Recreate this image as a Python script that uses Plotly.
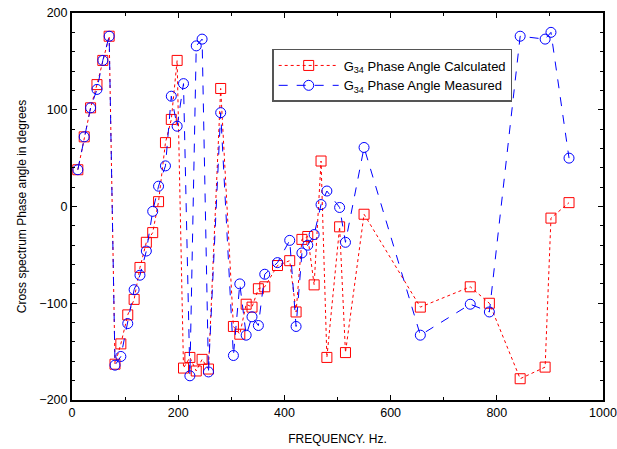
import plotly.graph_objects as go

freq = [11, 23, 35, 47, 58, 70, 81, 92, 105, 117, 128, 140, 152, 163, 176, 187, 198, 210,
        222, 234, 245, 257, 280, 304, 316, 328, 339, 351, 363, 387, 410, 422, 433, 444,
        456, 469, 480, 504, 515, 550, 656, 750, 786, 844, 891, 902, 936]

calculated = [38, 72, 102, 126, 151, 176, -163, -142, -112, -96, -63, -37, -27, 5, 66, 90,
              151, -167, -156, -170, -158, -168, 122, -124, -132, -101, -104, -85, -83, -61,
              -56, -109, -34, -31, -81, 47, -156, -21, -151, -8, -104, -83, -100, -178, -166,
              -12, 4]

measured = [38, 72, 102, 121, 151, 176, -164, -155, -121, -86, -71, -46, -5, 21, 42, 114,
            83, 127, -175, 166, 173, -171, 97, -154, -80, -133, -114, -123, -70, -58, -35,
            -124, -48, -40, -29, 2, 16, -1, -37, 61, -133, -101, -109, 176, 173, 180, 50]

fig = go.Figure()
fig.add_trace(go.Scatter(
    x=freq, y=calculated, mode="lines+markers",
    name="G<sub>34</sub> Phase Angle Calculated",
    line=dict(color="#ff0000", width=1, dash="dot"),
    marker=dict(symbol="square-open", size=10, color="#ff0000", line=dict(width=1)),
))
fig.add_trace(go.Scatter(
    x=freq, y=measured, mode="lines+markers",
    name="G<sub>34</sub> Phase Angle Measured",
    line=dict(color="#0000ff", width=1, dash="dash"),
    marker=dict(symbol="circle-open", size=10, color="#0000ff", line=dict(width=1)),
))

fam = "Liberation Sans, Arial, sans-serif"
fig.update_layout(
    width=617, height=449,
    margin=dict(l=72, r=14, t=13, b=49),
    paper_bgcolor="white", plot_bgcolor="white",
    font=dict(family=fam, size=12, color="#000000"),
    showlegend=True,
    legend=dict(
        x=0.377, y=0.907, xanchor="left", yanchor="top",
        bordercolor="#555555", borderwidth=1.5, bgcolor="white",
        font=dict(family=fam, size=13),
        itemwidth=60, tracegroupgap=0,
    ),
    xaxis=dict(
        range=[0, 1000], dtick=200, tick0=0, automargin=False,
        ticks="inside", ticklen=5, tickwidth=1, tickcolor="black",
        tickfont=dict(size=12.5),
        showline=True, linecolor="black", linewidth=2, mirror="allticks",
        showgrid=False, zeroline=False,
        minor=dict(ticks="inside", dtick=100, ticklen=3, tickcolor="black"),
        title=dict(text="FREQUENCY. Hz.", standoff=16, font=dict(size=12)),
    ),
    yaxis=dict(
        range=[-200, 200], dtick=100, tick0=0, automargin=False,
        ticks="inside", ticklen=5, tickwidth=1, tickcolor="black",
        tickfont=dict(size=12.5),
        showline=True, linecolor="black", linewidth=2, mirror="allticks",
        showgrid=False, zeroline=False,
        minor=dict(ticks="inside", dtick=20, ticklen=3, tickcolor="black"),
        title=dict(text="Cross spectrum Phase angle in degrees", standoff=10, font=dict(size=12)),
    ),
)

fig.write_html("out.html")
